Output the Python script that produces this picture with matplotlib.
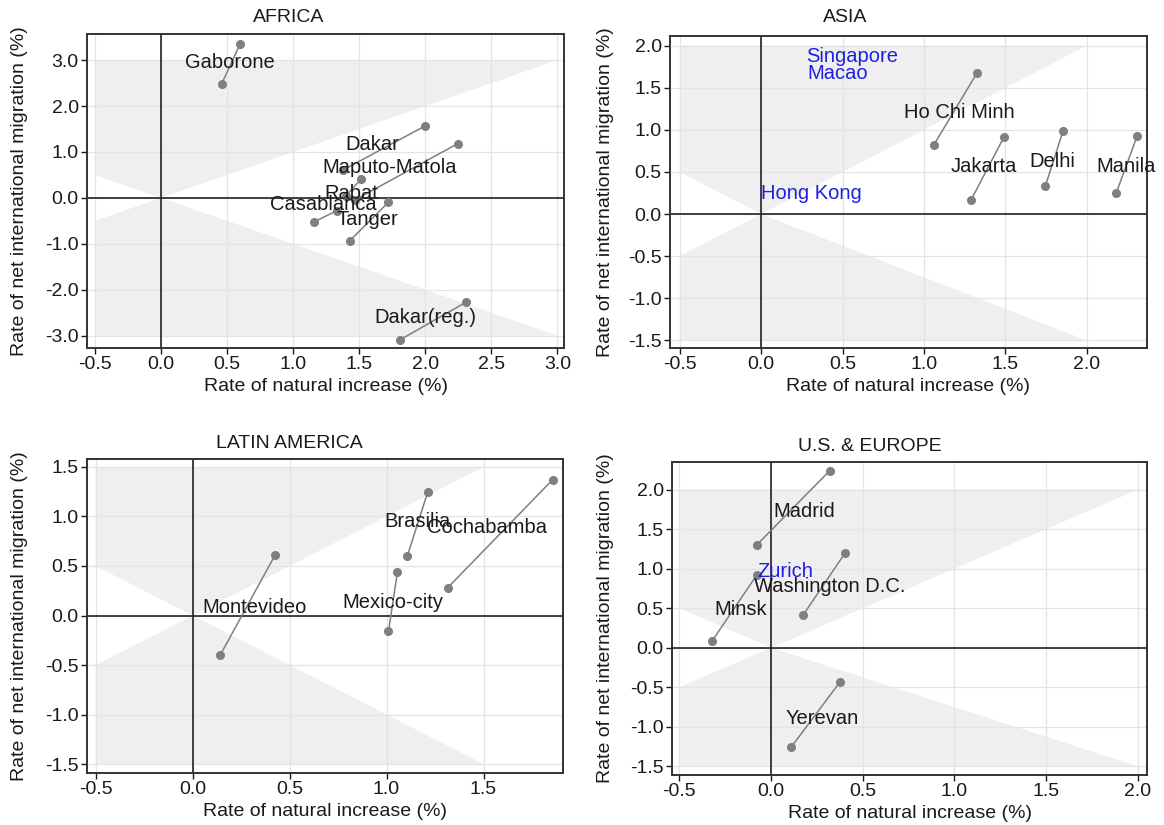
import matplotlib
matplotlib.use("Agg")
import matplotlib.pyplot as plt
from matplotlib.patches import Polygon

plt.rcParams['font.family'] = ['Liberation Sans', 'DejaVu Sans']

# ---------------- DATA ----------------
# AFRICA
af_names = ["Gaborone", "Dakar", "Maputo-Matola", "Rabat", "Casablanca", "Tanger", "Dakar(reg.)"]
af_x1 = [0.46, 1.38, 1.47, 1.40, 1.16, 1.43, 1.81]
af_y1 = [2.49, 0.61, -0.04, 0.05, -0.52, -0.93, -3.09]
af_x2 = [0.60, 2.00, 2.245, 1.515, 1.33, 1.72, 2.31]
af_y2 = [3.36, 1.57, 1.18, 0.41, -0.28, -0.10, -2.27]
af_lx = [0.52, 1.60, 1.73, 1.44, 1.23, 1.56, 2.00]
af_ly = [2.94, 1.17, 0.66, 0.10, -0.15, -0.48, -2.60]

# ASIA
as_names = ["Ho Chi Minh", "Jakarta", "Delhi", "Manila"]
as_x1 = [1.06, 1.29, 1.745, 2.18]
as_y1 = [0.82, 0.17, 0.33, 0.245]
as_x2 = [1.327, 1.49, 1.855, 2.31]
as_y2 = [1.68, 0.91, 0.99, 0.93]
as_lx = [1.22, 1.37, 1.79, 2.24]
as_ly = [1.21, 0.57, 0.63, 0.56]
as_blue = ["Singapore", "Macao", "Hong Kong"]
as_blue_x = [0.56, 0.47, 0.31]
as_blue_y = [1.87, 1.67, 0.25]

# LATIN AMERICA
la_names = ["Montevideo", "Brasilia", "Mexico-city", "Cochabamba"]
la_x1 = [0.142, 1.107, 1.01, 1.315]
la_y1 = [-0.40, 0.60, -0.16, 0.28]
la_x2 = [0.425, 1.213, 1.056, 1.856]
la_y2 = [0.61, 1.25, 0.44, 1.37]
la_lx = [0.32, 1.158, 1.03, 1.52]
la_ly = [0.08, 0.95, 0.135, 0.89]

# U.S. & EUROPE
eu_names = ["Madrid", "Washington D.C.", "Minsk", "Yerevan"]
eu_x1 = [-0.078, 0.177, -0.32, 0.109]
eu_y1 = [1.30, 0.42, 0.09, -1.26]
eu_x2 = [0.32, 0.404, -0.078, 0.377]
eu_y2 = [2.24, 1.20, 0.92, -0.43]
eu_lx = [0.18, 0.32, -0.164, 0.28]
eu_ly = [1.73, 0.78, 0.48, -0.89]
eu_blue = ["Zurich"]
eu_blue_x = [0.077]
eu_blue_y = [0.97]

# axis settings
af_xticks = [-0.5, 0.0, 0.5, 1.0, 1.5, 2.0, 2.5, 3.0]
af_yticks = [-3.0, -2.0, -1.0, 0.0, 1.0, 2.0, 3.0]
as_xticks = [-0.5, 0.0, 0.5, 1.0, 1.5, 2.0]
as_yticks = [-1.5, -1.0, -0.5, 0.0, 0.5, 1.0, 1.5, 2.0]
la_xticks = [-0.5, 0.0, 0.5, 1.0, 1.5]
la_yticks = [-1.5, -1.0, -0.5, 0.0, 0.5, 1.0, 1.5]
eu_xticks = [-0.5, 0.0, 0.5, 1.0, 1.5, 2.0]
eu_yticks = [-1.5, -1.0, -0.5, 0.0, 0.5, 1.0, 1.5, 2.0]

TXT = '#1a1a1a'
PT = '#7f7f7f'
SHADE = '#efefef'
GRID = '#e4e4e4'
BLUE = '#1f1fe0'
FS = 14
LFS = 14.5

fig = plt.figure(figsize=(11.64, 8.25), dpi=100)


def panel(rect, title, title_xy, xlim, ylim, xticks, yticks, shade,
          names, x1, y1, x2, y2, lx, ly, blue=None, bx=None, by=None):
    ax = fig.add_axes(rect)
    ax.set_xlim(*xlim)
    ax.set_ylim(*ylim)
    xm, ytop, ybot = shade
    ax.add_patch(Polygon([(-0.5, 0.5), (0, 0), (xm, ytop), (-0.5, ytop)],
                         closed=True, facecolor=SHADE, edgecolor='none', zorder=0.5))
    ax.add_patch(Polygon([(-0.5, -0.5), (0, 0), (xm, ybot), (-0.5, ybot)],
                         closed=True, facecolor=SHADE, edgecolor='none', zorder=0.5))
    ax.set_xticks(xticks)
    ax.set_yticks(yticks)
    ax.set_xticklabels([f"{t:.1f}" for t in xticks])
    ax.set_yticklabels([f"{t:.1f}" for t in yticks])
    ax.grid(True, color=GRID, lw=0.9, zorder=0.8)
    ax.set_axisbelow(True)
    ax.axhline(0, color='#222222', lw=1.2, zorder=2)
    ax.axvline(0, color='#222222', lw=1.2, zorder=2)
    for a, b, c, d in zip(x1, y1, x2, y2):
        ax.plot([a, c], [b, d], color=PT, lw=1.1, zorder=3)
        ax.plot([a, c], [b, d], 'o', color=PT, ms=5.5, zorder=4)
    for n, tx, ty in zip(names, lx, ly):
        ax.text(tx, ty, n, ha='center', va='center', fontsize=LFS, color=TXT, zorder=5)
    if blue:
        for n, tx, ty in zip(blue, bx, by):
            ax.text(tx, ty, n, ha='center', va='center', fontsize=LFS, color=BLUE, zorder=5)
    for s in ax.spines.values():
        s.set_color('#333333')
        s.set_linewidth(1.4)
    ax.tick_params(axis='both', labelsize=FS, colors=TXT, length=4, width=1,
                   direction='out', pad=2)
    ax.set_xlabel("Rate of natural increase (%)", fontsize=FS, color=TXT, labelpad=3)
    fig.text(title_xy[0] / 1164, 1 - title_xy[1] / 825, title, ha='center', va='center',
             fontsize=FS, color=TXT)
    return ax


ax1 = panel([87 / 1164, 1 - 348 / 825, 477 / 1164, 314 / 825], "AFRICA", (289, 17),
            (-0.56, 3.05), (-3.27, 3.57), af_xticks, af_yticks, (3.0, 3.0, -3.0),
            af_names, af_x1, af_y1, af_x2, af_y2, af_lx, af_ly)
ax2 = panel([670 / 1164, 1 - 348 / 825, 477 / 1164, 312 / 825], "ASIA", (845, 17),
            (-0.56, 2.37), (-1.59, 2.115), as_xticks, as_yticks, (2.0, 2.0, -1.5),
            as_names, as_x1, as_y1, as_x2, as_y2, as_lx, as_ly,
            as_blue, as_blue_x, as_blue_y)
ax3 = panel([87 / 1164, 1 - 773 / 825, 476 / 1164, 314 / 825], "LATIN AMERICA", (289, 444),
            (-0.545, 1.91), (-1.59, 1.58), la_xticks, la_yticks, (1.5, 1.5, -1.5),
            la_names, la_x1, la_y1, la_x2, la_y2, la_lx, la_ly)
ax4 = panel([672 / 1164, 1 - 775 / 825, 475 / 1164, 313 / 825], "U.S. & EUROPE", (870, 446),
            (-0.54, 2.05), (-1.61, 2.35), eu_xticks, eu_yticks, (2.0, 2.0, -1.5),
            eu_names, eu_x1, eu_y1, eu_x2, eu_y2, eu_lx, eu_ly,
            eu_blue, eu_blue_x, eu_blue_y)

ylab = "Rate of net international migration (%)"
fig.text(20 / 1164, 1 - 191 / 825, ylab, rotation=90, ha='center', va='center', fontsize=FS, color=TXT)
fig.text(606 / 1164, 1 - 192 / 825, ylab, rotation=90, ha='center', va='center', fontsize=FS, color=TXT)
fig.text(20 / 1164, 1 - 616 / 825, ylab, rotation=90, ha='center', va='center', fontsize=FS, color=TXT)
fig.text(606 / 1164, 1 - 618 / 825, ylab, rotation=90, ha='center', va='center', fontsize=FS, color=TXT)

fig.savefig("out.png", dpi=100, facecolor='white')
